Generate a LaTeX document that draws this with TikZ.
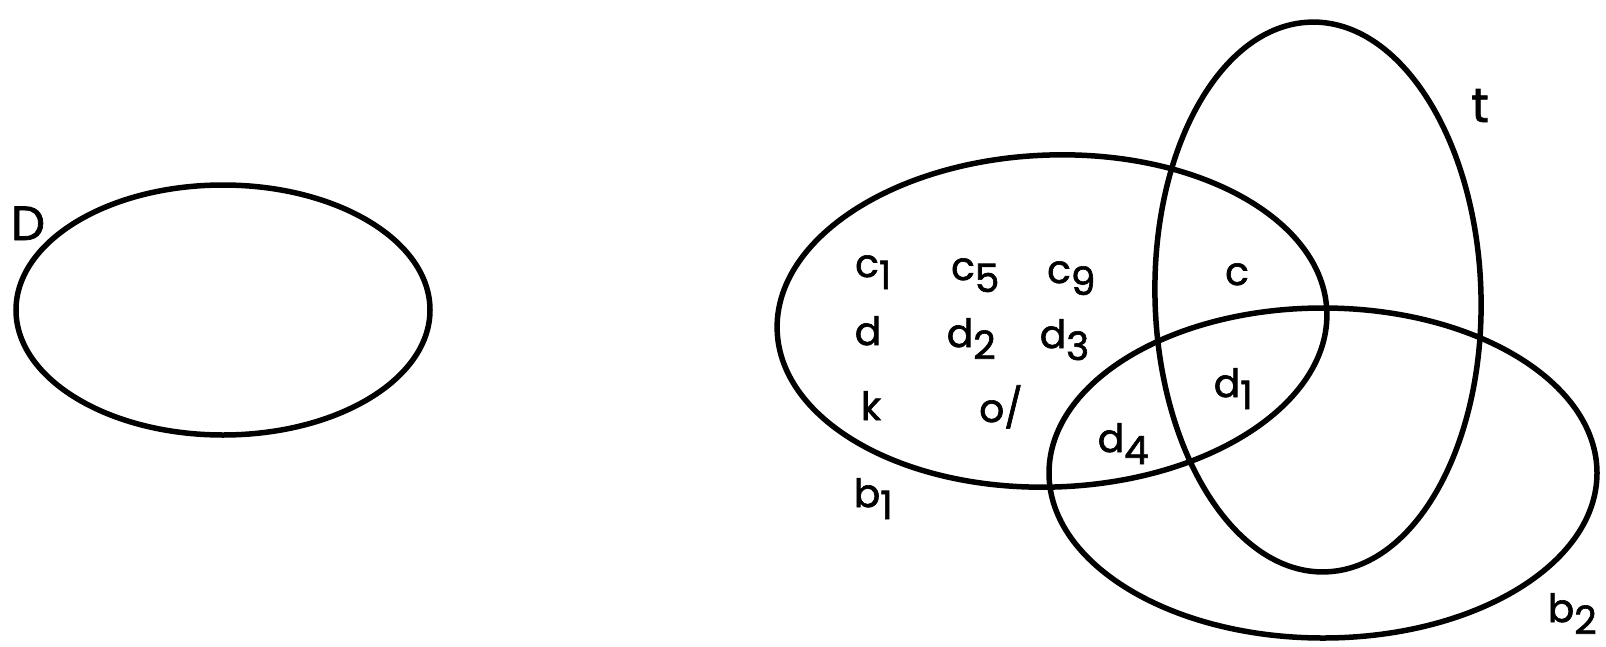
\documentclass[tikz,border=0pt]{standalone}
\usepackage{fontspec}
\setmainfont{Poppins}
\newfontfamily\labfont{Poppins}[FakeBold=1.6]
\tikzset{
  setline/.style={line width=5.5pt},
  lab/.style={font=\labfont\fontsize{39}{44}\selectfont, inner sep=0pt, anchor=base},
  biglab/.style={font=\labfont\fontsize{48}{52}\selectfont, inner sep=0pt, anchor=base},
}
\newcommand\sbx[2]{#1\rlap{\smash{\raisebox{-12pt}{#2}}}}
\begin{document}
\begin{tikzpicture}[x=1pt,y=-1pt]
\useasboundingbox (0,0) rectangle (1606,646);
% sets
\draw[setline] (223,310) ellipse [x radius=207, y radius=125];
\draw[setline, rotate around={2:(1052,321)}] (1052,321) ellipse [x radius=275, y radius=166];
\draw[setline, rotate around={1.5:(1318,297)}] (1318,297) ellipse [x radius=163, y radius=275];
\draw[setline] (1323,473) ellipse [x radius=274, y radius=165];
% labels
\node[biglab] (D) at (28,240) {D};
\node[lab] (c1) at (867,277) {\sbx{c}{1}};
\node[lab] (c5) at (963,280) {\sbx{c}{5}};
\node[lab] (c9) at (1059,283) {\sbx{c}{9}};
\node[lab] (d) at (868,345) {d};
\node[lab] (d2) at (960,347) {\sbx{d}{2}};
\node[lab] (d3) at (1053,348) {\sbx{d}{3}};
\node[lab] (k) at (871,420) {k};
\node[lab] (o) at (1001,422) {o/};
\node[lab] (b1) at (867,507) {\sbx{b}{1}};
\node[lab] (d4) at (1111,452) {\sbx{d}{4}};
\node[lab] (c) at (1237,285) {c};
\node[lab] (d1) at (1227,397) {\sbx{d}{1}};
\node[biglab] (t) at (1480,122) {t};
\node[lab] (b2) at (1561,622) {\sbx{b}{2}};
\end{tikzpicture}
\end{document}
